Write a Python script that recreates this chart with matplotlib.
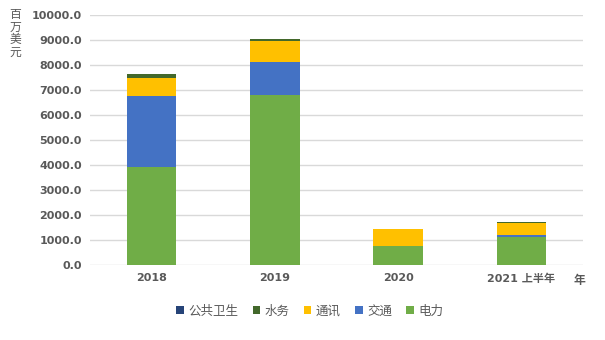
import matplotlib
matplotlib.use("Agg")
import matplotlib.pyplot as plt
from matplotlib.patches import Patch
import numpy as np

plt.rcParams['font.family'] = ['DejaVu Sans', 'Noto Sans CJK SC']

years = ["2018", "2019", "2020", "2021 上半年"]
series_names = ["电力", "交通", "通讯", "水务", "公共卫生"]
power = [3920, 6800, 760, 1130]
transport = [2840, 1320, 0, 70]
telecom = [730, 840, 680, 490]
water = [150, 80, 0, 30]
health = [0, 0, 0, 0]
colors = {"电力": "#70AD47", "交通": "#4472C4", "通讯": "#FFC000",
          "水务": "#43682B", "公共卫生": "#264478"}
yticks = [0, 1000, 2000, 3000, 4000, 5000, 6000, 7000, 8000, 9000, 10000]

values = {"电力": power, "交通": transport, "通讯": telecom,
          "水务": water, "公共卫生": health}

fig = plt.figure(figsize=(6.05, 3.4), dpi=100)
ax = fig.add_axes([0.1488, 0.2206, 0.8148, 0.7354])

x = np.arange(len(years))
bottom = np.zeros(len(years))
for name in series_names:
    v = np.array(values[name], dtype=float)
    ax.bar(x, v, width=0.4, bottom=bottom, color=colors[name], zorder=3)
    bottom += v

ax.set_xlim(-0.5, len(years) - 0.5)
ax.set_ylim(0, 10000)
ax.set_yticks(yticks)
ax.set_yticklabels([f"{t:.1f}" for t in yticks])
ax.set_xticks(x)
ax.set_xticklabels(years)
ax.grid(axis='y', color='#D9D9D9', linewidth=1, zorder=0)
for s in ax.spines.values():
    s.set_visible(False)
ax.tick_params(length=0, labelsize=8, labelcolor='#595959', pad=6)
for lab in ax.get_xticklabels() + ax.get_yticklabels():
    lab.set_fontweight('bold')

fig.text(0.025, 0.977, "百\n万\n美\n元", ha='center', va='top', fontsize=8.5,
         color='#595959', linespacing=0.98)
fig.text(0.958, 0.175, "年", ha='center', va='center', fontsize=8.5,
         color='#595959', fontweight='bold')

legend_order = ["公共卫生", "水务", "通讯", "交通", "电力"]
handles = [Patch(facecolor=colors[n], edgecolor='none') for n in legend_order]
fig.legend(handles, legend_order, loc='center', bbox_to_anchor=(0.512, 0.085),
           ncol=5, frameon=False, fontsize=9, labelcolor='#595959',
           handlelength=0.6, handleheight=0.6, handletextpad=0.35,
           columnspacing=1.15)

fig.savefig("out.png", dpi=100)
